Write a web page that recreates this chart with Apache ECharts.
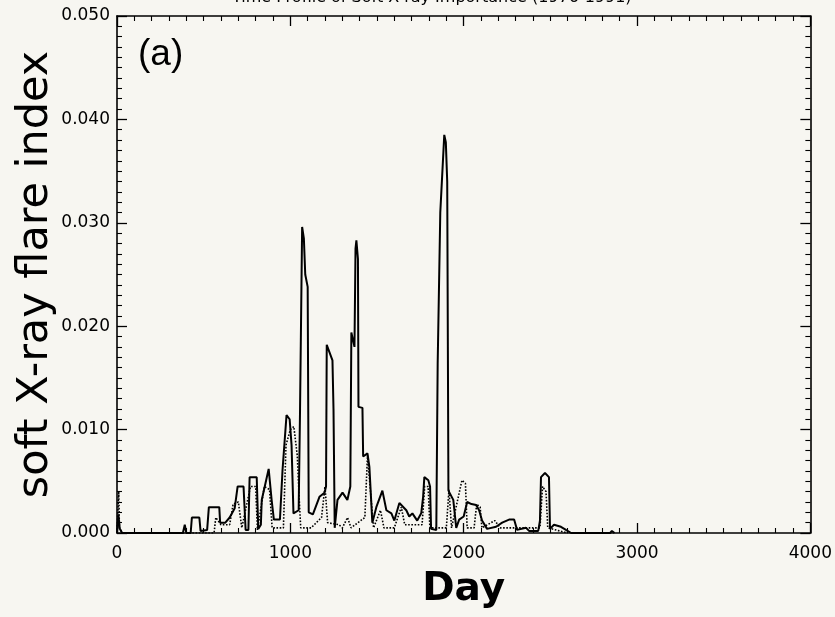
<!DOCTYPE html>
<html>
<head>
<meta charset="utf-8">
<script src="https://cdn.jsdelivr.net/npm/echarts@6/dist/echarts.min.js"></script>
<style>
  html, body { margin: 0; padding: 0; background: #f7f6f1; }
  #chart { width: 835px; height: 617px; }
</style>
</head>
<body>
<div id="chart"></div>
<script>
// solid curve: day / flare index
const solidDays = [0, 8, 16, 30, 380, 391, 400, 425, 432, 475, 482, 520, 530, 590, 595, 625, 650, 679, 696, 730, 742, 758, 765, 806, 815, 830, 835, 863, 875, 892, 905, 940, 955, 978, 996, 1007, 1018, 1048, 1056, 1068, 1078, 1086, 1100, 1106, 1130, 1168, 1197, 1206, 1210, 1220, 1243, 1249, 1256, 1272, 1301, 1329, 1346, 1352, 1370, 1376, 1381, 1390, 1393, 1416, 1420, 1445, 1456, 1473, 1496, 1531, 1554, 1583, 1600, 1629, 1669, 1686, 1704, 1732, 1755, 1766, 1773, 1796, 1806, 1812, 1842, 1850, 1865, 1888, 1897, 1905, 1912, 1940, 1957, 1974, 2000, 2020, 2045, 2072, 2089, 2106, 2135, 2187, 2222, 2262, 2291, 2308, 2360, 2377, 2430, 2440, 2446, 2469, 2492, 2498, 2521, 2561, 2590, 2620, 2845, 2855, 2870]
const solidValues = [0, 0.0018, 0.0004, 0, 0, 0.0008, 0, 0, 0.0015, 0.0015, 0.0002, 0.0003, 0.0025, 0.0025, 0.001, 0.001, 0.0015, 0.0024, 0.0045, 0.0045, 0.0003, 0.0003, 0.0054, 0.0054, 0.0004, 0.0008, 0.0032, 0.0053, 0.0062, 0.0032, 0.0013, 0.0013, 0.0061, 0.0114, 0.011, 0.0085, 0.0019, 0.0022, 0.012, 0.0296, 0.0285, 0.025, 0.0238, 0.002, 0.0018, 0.0035, 0.0039, 0.0045, 0.0182, 0.0182, 0.0167, 0.012, 0.0005, 0.0032, 0.0039, 0.0032, 0.0045, 0.0194, 0.018, 0.0275, 0.0283, 0.0265, 0.0122, 0.0121, 0.0074, 0.0077, 0.0064, 0.001, 0.0025, 0.0041, 0.0022, 0.0019, 0.0012, 0.0029, 0.0022, 0.0016, 0.0019, 0.0012, 0.0019, 0.0035, 0.0054, 0.0051, 0.0045, 0.0004, 0.0003, 0.0164, 0.031, 0.0385, 0.0378, 0.034, 0.0041, 0.0032, 0.0005, 0.0013, 0.0016, 0.003, 0.0028, 0.0027, 0.0022, 0.0012, 0.0004, 0.0006, 0.001, 0.0013, 0.0013, 0.0003, 0.0005, 0.0002, 0.0002, 0.0012, 0.0054, 0.0058, 0.0054, 0.0004, 0.0008, 0.0006, 0.0003, 0, 0, 0.0002, 0]

// dotted curve
const dottedDays = [0, 10, 14, 30, 560, 570, 600, 650, 670, 700, 720, 770, 800, 810, 850, 880, 895, 960, 975, 1000, 1020, 1040, 1052, 1060, 1120, 1180, 1200, 1215, 1280, 1300, 1330, 1350, 1430, 1445, 1460, 1480, 1520, 1540, 1600, 1640, 1660, 1760, 1775, 1795, 1805, 1900, 1915, 1930, 1990, 2010, 2020, 2060, 2075, 2095, 2105, 2180, 2210, 2440, 2455, 2475, 2485, 2600]
const dottedValues = [0, 0.004, 0.0005, 0, 0, 0.0015, 0.0008, 0.0008, 0.0028, 0.003, 0.0005, 0.0045, 0.0045, 0.0003, 0.0045, 0.0042, 0.0005, 0.0005, 0.0085, 0.01, 0.0103, 0.0075, 0.003, 0.0005, 0.0005, 0.0015, 0.0045, 0.001, 0.0008, 0.0005, 0.0015, 0.0005, 0.0015, 0.0075, 0.0045, 0.0005, 0.0022, 0.0005, 0.0005, 0.0025, 0.0008, 0.0008, 0.0045, 0.0045, 0.0005, 0.0005, 0.0042, 0.0005, 0.0051, 0.0048, 0.0005, 0.0005, 0.0028, 0.0025, 0.0005, 0.0012, 0.0005, 0.0005, 0.0045, 0.004, 0.0005, 0]

const xTicks = [0, 1000, 2000, 3000, 4000]
const yTicks = [0, 0.01, 0.02, 0.03, 0.04, 0.05]

const font = 'DejaVu Sans'
const myChart = echarts.init(document.getElementById('chart'))

const axisCommon = () => ({
  axisLine: { show: true, onZero: false, lineStyle: { color: '#000', width: 1.6 } },
  axisTick: { show: true, inside: true, length: 10, lineStyle: { color: '#000', width: 1.3 } },
  minorTick: { show: true, splitNumber: 10, length: 5, lineStyle: { color: '#000', width: 1.1 } },
  splitLine: { show: false },
  minorSplitLine: { show: false }
})

myChart.setOption({
  backgroundColor: '#f7f6f1',
  animation: false,
  grid: { left: 117, right: 23, top: 16, bottom: 84 },
  graphic: [
    {
      type: 'text', left: 232, top: -10,
      style: { text: 'Time Profile of Soft X-ray Importance (1976-1991)', font: '16px "DejaVu Sans"', fill: '#000' }
    },
    {
      type: 'text', left: 138, top: 36,
      style: { text: '(a)', font: '37px "Liberation Sans"', fill: '#000' }
    }
  ],
  xAxis: [
    Object.assign(axisCommon(), {
      type: 'value', min: 0, max: 4000, interval: 1000,
      name: 'Day', nameLocation: 'middle', nameGap: 37,
      nameTextStyle: { fontFamily: font, fontSize: 39, fontWeight: 'bold', color: '#000' },
      axisLabel: {
        color: '#000', fontFamily: font, fontSize: 17, margin: 12,
        formatter: v => xTicks.includes(v) ? String(v) : ''
      }
    }),
    Object.assign(axisCommon(), {
      type: 'value', min: 0, max: 4000, interval: 1000, position: 'top',
      axisLabel: { show: false }
    })
  ],
  yAxis: [
    Object.assign(axisCommon(), {
      type: 'value', min: 0, max: 0.05, interval: 0.01,
      name: 'soft X-ray flare index', nameLocation: 'middle', nameGap: 60,
      nameMoveOverlap: false,
      nameTextStyle: { fontFamily: font, fontSize: 43, color: '#000' },
      axisLabel: {
        color: '#000', fontFamily: font, fontSize: 17, margin: 7,
        formatter: v => yTicks.some(t => Math.abs(t - v) < 1e-9) ? v.toFixed(3) : ''
      }
    }),
    Object.assign(axisCommon(), {
      type: 'value', min: 0, max: 0.05, interval: 0.01, position: 'right',
      axisLabel: { show: false }
    })
  ],
  series: [
    {
      name: 'solid',
      type: 'line',
      data: solidDays.map((d, i) => [d, solidValues[i]]),
      showSymbol: false,
      lineStyle: { color: '#000', width: 2 },
      z: 3
    },
    {
      name: 'dotted',
      type: 'line',
      data: dottedDays.map((d, i) => [d, dottedValues[i]]),
      showSymbol: false,
      lineStyle: { color: '#000', width: 1.6, type: 'dotted' },
      z: 2
    }
  ]
})
</script>
</body>
</html>
